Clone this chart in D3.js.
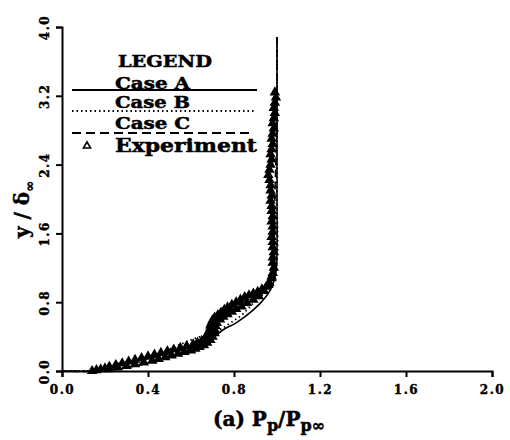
<!DOCTYPE html>
<html>
<head>
<meta charset="utf-8">
<script src="https://cdn.jsdelivr.net/npm/d3@7"></script>
<style>
  body { margin: 0; background: #fff; }
  svg { display: block; }
  .axis text { font-family: "DejaVu Serif", serif; font-weight: bold; font-size: 12px; letter-spacing: 1.5px; fill: #000; stroke: #000; stroke-width: 0.4; }
  .axis path, .axis line { stroke: #000; stroke-width: 2; }
  .lbl { font-family: "DejaVu Serif", serif; font-weight: bold; fill: #000; stroke: #000; stroke-width: 0.5; }
</style>
</head>
<body>
<div id="chart"></div>
<script>
  // данные: [P_p/P_p∞, y/δ∞]
  const xTicks = [0.0, 0.4, 0.8, 1.2, 1.6, 2.0];
  const yTicks = [0.0, 0.8, 1.6, 2.4, 3.2, 4.0];

  const caseA = [[1.0,3.88],[1.0,3.0],[1.0,2.0],[1.0,1.4],[0.995,1.15],[0.98,1.0],[0.95,0.87],
    [0.89,0.71],[0.81,0.56],[0.75,0.48],[0.72,0.42],[0.67,0.33],[0.6,0.26],[0.53,0.19],
    [0.45,0.13],[0.38,0.08],[0.3,0.04],[0.26,0.02],[0.18,0.0],[0.0,0.0]];

  const caseB = [[1.0,3.88],[1.0,3.0],[1.0,2.0],[1.0,1.3],[0.98,1.05],[0.93,0.88],[0.89,0.79],
    [0.84,0.66],[0.79,0.57],[0.74,0.49],[0.68,0.43],[0.62,0.38],[0.55,0.31],[0.46,0.21],
    [0.36,0.12],[0.26,0.05],[0.18,0.01],[0.1,0.0],[0.0,0.0]];

  const caseC = [[1.0,3.88],[1.0,3.0],[0.99,2.0],[0.985,1.3],[0.975,1.1],[0.95,0.97],[0.90,0.89],
    [0.84,0.82],[0.78,0.74],[0.74,0.67],[0.71,0.58],[0.70,0.48],[0.68,0.38],[0.64,0.31],
    [0.57,0.25],[0.48,0.19],[0.38,0.13],[0.28,0.07],[0.2,0.03],[0.15,0.0],[0.0,0.0]];

  const expUpper = [[0.99,3.24],[0.995,3.18],[0.99,3.12],[0.985,3.06],[0.99,3.00],[0.985,2.94],
    [0.98,2.88],[0.985,2.82],[0.98,2.76],[0.975,2.70],[0.98,2.64],[0.975,2.58],[0.97,2.52],
    [0.975,2.46],[0.97,2.40],[0.965,2.34],[0.96,2.28],[0.965,2.22],[0.97,2.16],[0.97,2.10],
    [0.975,2.04],[0.97,1.98],[0.975,1.92],[0.975,1.86],[0.98,1.80],[0.975,1.74],[0.98,1.68],
    [0.98,1.62],[0.975,1.56],[0.98,1.50],[0.98,1.44],[0.985,1.38],[0.98,1.32],[0.98,1.26],
    [0.985,1.20],[0.98,1.14],[0.975,1.08],[0.965,1.02]];

  const expOuter = [[0.95,0.98],[0.93,0.95],[0.91,0.92],[0.89,0.90],[0.87,0.88],[0.85,0.86],
    [0.83,0.83],[0.81,0.80],[0.79,0.77],[0.77,0.74],[0.755,0.71],[0.74,0.68],[0.725,0.65],
    [0.71,0.62],[0.70,0.59],[0.695,0.56],[0.69,0.53],[0.69,0.50],[0.685,0.47],[0.68,0.44],
    [0.675,0.41],[0.665,0.38],[0.65,0.35],[0.63,0.33],[0.61,0.31],[0.58,0.29],[0.55,0.27],
    [0.52,0.25],[0.49,0.23],[0.46,0.21],[0.43,0.19],[0.40,0.17],[0.37,0.15],[0.34,0.13],
    [0.31,0.11],[0.28,0.09],[0.25,0.07],[0.22,0.05],[0.20,0.03],[0.18,0.02]];

  const expInner = [[0.975,1.10],[0.96,1.00],[0.94,0.93],[0.915,0.87],[0.89,0.83],[0.86,0.79],
    [0.835,0.75],[0.81,0.72],[0.79,0.69],[0.77,0.66],[0.75,0.63],[0.735,0.60],[0.72,0.56],
    [0.715,0.52],[0.71,0.48],[0.71,0.44],[0.70,0.40],[0.69,0.36],[0.675,0.33],[0.66,0.30],
    [0.64,0.28],[0.62,0.26],[0.60,0.24],[0.57,0.22],[0.54,0.20],[0.51,0.18],[0.48,0.16],
    [0.45,0.14],[0.42,0.12],[0.38,0.10],[0.34,0.08],[0.30,0.06],[0.26,0.04],[0.22,0.02],
    [0.16,0.01],[0.14,0.0]];

  const W = 510, H = 440;
  const svg = d3.select('#chart').append('svg').attr('width', W).attr('height', H);

  const x = d3.scaleLinear().domain([0, 2]).range([62, 492]);
  const y = d3.scaleLinear().domain([0, 4]).range([371, 27]);

  // оси
  const gx = svg.append('g').attr('class', 'axis').attr('transform', `translate(0,${y(0)})`)
    .call(d3.axisBottom(x).tickValues(xTicks).tickFormat(d3.format('.1f')).tickSizeOuter(0).tickSize(6).tickPadding(8));
  gx.selectAll('text').attr('dy', '0.71em');

  const gy = svg.append('g').attr('class', 'axis').attr('transform', `translate(${x(0)},0)`)
    .call(d3.axisLeft(y).tickValues(yTicks).tickFormat(d3.format('.1f')).tickSizeOuter(0).tickSize(6));
  gy.selectAll('text')
    .attr('x', 0).attr('y', -13).attr('dy', 0)
    .attr('text-anchor', 'middle')
    .attr('transform', 'rotate(-90)');

  // кривые
  const line = d3.line().x(d => x(d[0])).y(d => y(d[1])).curve(d3.curveCatmullRom);
  const plot = svg.append('g');
  plot.append('path').datum(caseC).attr('d', line).attr('fill', 'none')
    .attr('stroke', '#000').attr('stroke-width', 1.5).attr('stroke-dasharray', '8,4');
  plot.append('path').datum(caseB).attr('d', line).attr('fill', 'none')
    .attr('stroke', '#000').attr('stroke-width', 1.8).attr('stroke-dasharray', '1.5,3');
  plot.append('path').datum(caseA).attr('d', line).attr('fill', 'none')
    .attr('stroke', '#000').attr('stroke-width', 1.6);

  // эксперимент
  const tri = d3.symbol().type(d3.symbolTriangle).size(26);
  plot.selectAll('path.exp')
    .data(expUpper.concat(expOuter, expInner))
    .join('path')
    .attr('class', 'exp')
    .attr('d', tri)
    .attr('transform', d => `translate(${x(d[0])},${y(d[1])})`)
    .attr('fill', '#000').attr('stroke', '#000').attr('stroke-width', 1.6);

  // легенда
  const leg = svg.append('g');
  leg.append('text').attr('class', 'lbl').attr('x', 118).attr('y', 67).attr('font-size', 17)
    .attr('textLength', 94).attr('lengthAdjust', 'spacingAndGlyphs').text('LEGEND');
  const legItems = [
    { name: 'Case A', ty: 89, ly: 90, dash: null, x2: 257 },
    { name: 'Case B', ty: 108, ly: 111, dash: '1.5,3', x2: 255 },
    { name: 'Case C', ty: 129, ly: 133, dash: '9,5', x2: 252 }
  ];
  legItems.forEach(it => {
    leg.append('text').attr('class', 'lbl').attr('x', 115).attr('y', it.ty).attr('font-size', 16)
      .attr('textLength', 75).attr('lengthAdjust', 'spacingAndGlyphs').text(it.name);
    leg.append('line').attr('x1', 72).attr('x2', it.x2).attr('y1', it.ly).attr('y2', it.ly)
      .attr('stroke', '#000').attr('stroke-width', 1.8).attr('stroke-dasharray', it.dash);
  });
  leg.append('path').attr('d', d3.symbol().type(d3.symbolTriangle).size(22))
    .attr('transform', 'translate(87,146)').attr('fill', 'none').attr('stroke', '#000').attr('stroke-width', 1.6);
  leg.append('text').attr('class', 'lbl').attr('x', 115).attr('y', 152).attr('font-size', 18)
    .attr('textLength', 142).attr('lengthAdjust', 'spacingAndGlyphs').text('Experiment');

  // подписи осей
  const xt = svg.append('text').attr('class', 'lbl').attr('x', 213).attr('y', 426).attr('font-size', 20);
  xt.append('tspan').text('(a) P');
  xt.append('tspan').attr('font-size', 16).attr('dy', 5).text('p');
  xt.append('tspan').attr('dy', -5).text('/P');
  xt.append('tspan').attr('font-size', 16).attr('dy', 5).text('p∞');

  const yt = svg.append('text').attr('class', 'lbl').attr('font-size', 20)
    .attr('transform', 'translate(29,238) rotate(-90)');
  yt.append('tspan').text('y / δ');
  yt.append('tspan').attr('font-size', 13).attr('dy', 5).text('∞');
</script>
</body>
</html>
